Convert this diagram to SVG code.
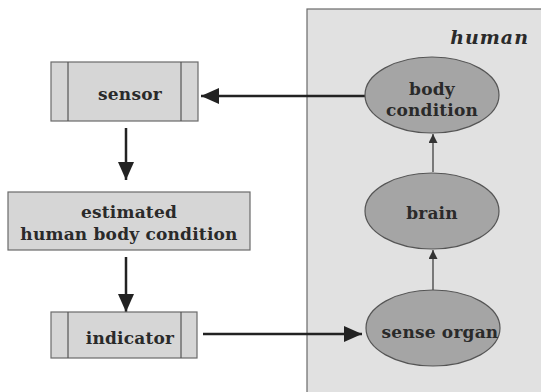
<svg xmlns="http://www.w3.org/2000/svg" width="541" height="392" viewBox="0 0 541 392">
<defs>
<style>
.box{fill:#d6d6d6;stroke:#6a6a6a;stroke-width:1.2}
.ell{fill:#a5a5a5;stroke:#555;stroke-width:1.2}
.t{font-family:"DejaVu Serif","Liberation Serif",serif;font-weight:bold;font-size:17px;fill:#2a2a2a;text-anchor:middle;letter-spacing:0.2px}
.thick{stroke:#222;stroke-width:2.5;fill:none}
.thin{stroke:#333;stroke-width:1.2;fill:none}
</style>
<marker id="big" markerUnits="userSpaceOnUse" markerWidth="20" markerHeight="18" refX="18" refY="8" orient="auto">
<path d="M0,0 L18,8 L0,16 Z" fill="#222"/>
</marker>
<marker id="small" markerUnits="userSpaceOnUse" markerWidth="10" markerHeight="10" refX="9" refY="4.5" orient="auto">
<path d="M0,0 L9,4.5 L0,9 Z" fill="#333"/>
</marker>
</defs>
<rect width="541" height="392" fill="#fff"/>
<g id="human">
<rect x="307" y="9" width="240" height="390" fill="#e1e1e1" stroke="#6a6a6a" stroke-width="1.2"/>
<text x="529" y="44" font-family="DejaVu Serif,Liberation Serif,serif" font-weight="bold" font-style="italic" font-size="19" fill="#2a2a2a" text-anchor="end" letter-spacing="1">human</text>
</g>
<g id="connectors">
<line class="thick" x1="365" y1="96" x2="201" y2="96" marker-end="url(#big)"/>
<line class="thick" x1="126" y1="128" x2="126" y2="180" marker-end="url(#big)"/>
<line class="thick" x1="126" y1="257" x2="126" y2="312" marker-end="url(#big)"/>
<line class="thick" x1="203" y1="334" x2="362" y2="334" marker-end="url(#big)"/>
<line class="thin" x1="433" y1="172" x2="433" y2="134" marker-end="url(#small)"/>
<line class="thin" x1="433" y1="290" x2="433" y2="250" marker-end="url(#small)"/>
</g>
<g id="sensor">
<rect class="box" x="51" y="62" width="147" height="59"/>
<line x1="68" y1="62" x2="68" y2="121" stroke="#555" stroke-width="1.2"/>
<line x1="181" y1="62" x2="181" y2="121" stroke="#555" stroke-width="1.2"/>
<text class="t" x="130" y="100">sensor</text>
</g>
<g id="estimated">
<rect class="box" x="8" y="192" width="242" height="58"/>
<text class="t" x="129" y="218">estimated</text>
<text class="t" x="129" y="240">human body condition</text>
</g>
<g id="indicator">
<rect class="box" x="51" y="312" width="146" height="46"/>
<line x1="68" y1="312" x2="68" y2="358" stroke="#555" stroke-width="1.2"/>
<line x1="181" y1="312" x2="181" y2="358" stroke="#555" stroke-width="1.2"/>
<text class="t" x="130" y="344">indicator</text>
</g>
<g id="body">
<ellipse class="ell" cx="432" cy="95" rx="67" ry="38"/>
<text class="t" x="432" y="95">body</text>
<text class="t" x="432" y="116">condition</text>
</g>
<g id="brain">
<ellipse class="ell" cx="432" cy="211" rx="67" ry="38"/>
<text class="t" x="432" y="219">brain</text>
</g>
<g id="sense">
<ellipse class="ell" cx="433" cy="328" rx="67" ry="38"/>
<text class="t" x="440" y="338" letter-spacing="0">sense organ</text>
</g>
</svg>
